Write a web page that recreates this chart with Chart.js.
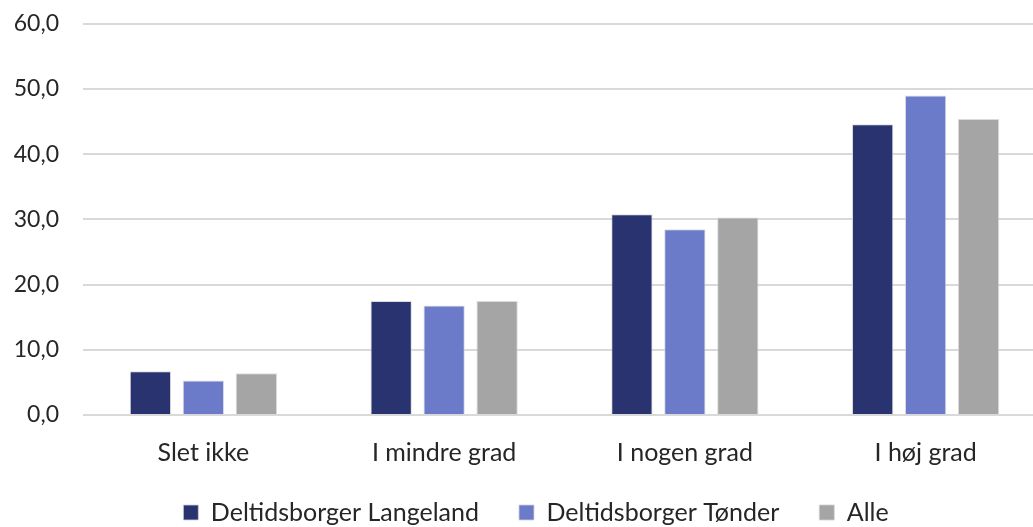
<!DOCTYPE html>
<html><head><meta charset="utf-8">
<script src="https://cdn.jsdelivr.net/npm/chart.js@4/dist/chart.umd.min.js"></script>
<style>html,body{margin:0;padding:0;background:#fff;overflow:hidden}#wrap{width:1046px;height:541px;margin-top:-14px;position:relative}</style>
</head><body><div id="wrap"><canvas id="c"></canvas></div>
<script>
const categories = ["Slet ikke", "I mindre grad", "I nogen grad", "I høj grad"];
const langeland = [6.7, 17.5, 30.8, 44.6];
const tonder = [5.3, 16.8, 28.5, 49.0];
const alle = [6.4, 17.5, 30.3, 45.4];
const seriesNames = ["Deltidsborger Langeland", "Deltidsborger Tønder", "Alle"];
const colors = ["#283370", "#6b7bc9", "#a5a5a5"];
const FONT = "Lato, 'Open Sans', sans-serif";
const TXT = "#262626";
const mk = (i, d) => ({label: seriesNames[i], data: d, backgroundColor: colors[i], borderColor: "rgba(210,210,215,0.8)", borderWidth: 1, categoryPercentage: 0.66, barPercentage: 0.78});
const legendTweak = {
  id: "legendTweak",
  beforeLayout(chart) {
    const lg = chart.legend;
    if (lg && !lg._wrapped) {
      const f = lg.fit;
      lg.fit = function () { f.call(this); this.height = 67; };
      lg._wrapped = true;
    }
  },
  afterLayout(chart) {
    const lg = chart.legend;
    if (lg) { lg.left += 13; lg.right += 13; }
  }
};
new Chart(document.getElementById("c"), {
  type: "bar",
  data: {labels: categories, datasets: [mk(0, langeland), mk(1, tonder), mk(2, alle)]},
  plugins: [legendTweak],
  options: {
    responsive: true, maintainAspectRatio: false, animation: false,
    layout: {padding: {top: 0, left: 0, right: 0, bottom: 0}},
    plugins: {
      tooltip: {enabled: false},
      legend: {position: "bottom", labels: {font: {family: FONT, size: 25}, color: TXT, boxWidth: 15, boxHeight: 15, padding: 40}}
    },
    scales: {
      x: {grid: {display: false}, border: {display: false},
        afterFit: s => { s.height = 45; s._computeLabelArea = () => undefined; },
        ticks: {font: {family: FONT, size: 25}, color: TXT, padding: 15}},
      y: {min: 0, max: 60, afterFit: s => { s.width = 83; },
        grid: {color: "#d9d9d9", lineWidth: 2, drawTicks: false}, border: {display: false},
        ticks: {stepSize: 10, padding: 24, font: {family: FONT, size: 23}, color: TXT, callback: v => v.toFixed(1).replace(".", ",")}}
    }
  }
});
</script></body></html>
